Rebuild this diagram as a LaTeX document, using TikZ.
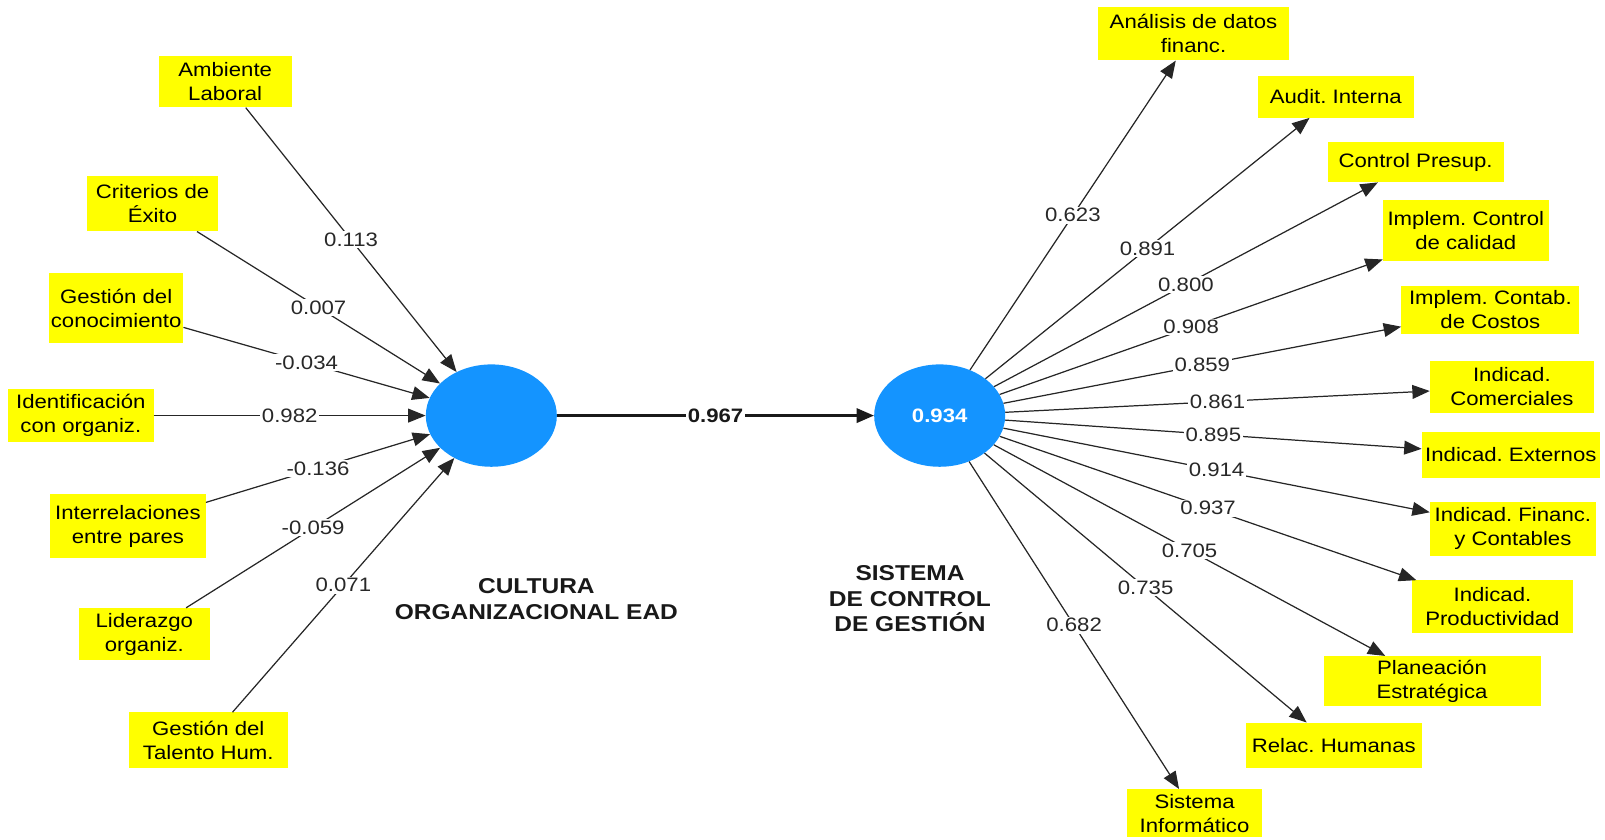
\documentclass[tikz,border=0pt]{standalone}
\usepackage{fontspec}
\setmainfont{Liberation Sans}[FakeStretch=1.14]
\usetikzlibrary{arrows.meta,shapes.geometric}
\definecolor{lvblue}{RGB}{20,148,255}
\definecolor{ylw}{RGB}{255,255,0}
\definecolor{txt}{RGB}{25,25,25}
\definecolor{lbltxt}{RGB}{40,40,40}
\frenchspacing
\begin{document}
\begin{tikzpicture}[x=1pt,y=-1pt,
  ind/.style={fill=ylw, inner sep=0pt, align=center, text=black,
    font=\fontsize{19}{23.5}\selectfont},
  lv/.style={ellipse, fill=lvblue, minimum width=128pt, minimum height=100pt, inner sep=0pt},
  arr/.style={-{Triangle[length=17pt,width=13.5pt]}, line width=1.2pt, draw=black!85},
  lbl/.style={fill=white, inner sep=1.5pt, text=lbltxt, font=\fontsize{19}{22}\selectfont},
  lvcaption/.style={align=center, text=txt, font=\fontsize{21}{25}\selectfont\bfseries}
]
\useasboundingbox (0,0) rectangle (1568,820);

% latent variables
\node[lv] (lv1) at (480,406) {};
\node[lv] (lv2) at (918,406) {\textcolor{white}{\fontsize{19}{22}\selectfont\bfseries 0.934}};

% captions
\node[lvcaption] (cap1) at (524,585) {CULTURA\\ORGANIZACIONAL EAD};
\node[lvcaption] (cap2) at (889,585) {SISTEMA\\DE CONTROL\\DE GESTIÓN};

% left indicators
\node[ind, minimum width=130pt, minimum height=50pt] (amb) at (220,80) {Ambiente\\Laboral};
\node[ind, minimum width=128pt, minimum height=54pt] (cri) at (149,199) {Criterios de\\Éxito};
\node[ind, minimum width=131pt, minimum height=68pt] (gco) at (113.5,301) {Gestión del\\conocimiento};
\node[ind, minimum width=142pt, minimum height=52pt] (ide) at (79,406) {Identificación\\con organiz.};
\node[ind, minimum width=152pt, minimum height=62pt] (int) at (125,514) {Interrelaciones\\entre pares};
\node[ind, minimum width=128pt, minimum height=51pt] (lid) at (141,619.5) {Liderazgo\\organiz.};
\node[ind, minimum width=155pt, minimum height=54pt] (gta) at (203.5,723) {Gestión del\\Talento Hum.};

% right indicators
\node[ind, minimum width=186pt, minimum height=52pt] (ana) at (1166,33) {Análisis de datos\\financ.};
\node[ind, minimum width=152pt, minimum height=41pt] (aud) at (1305,94.5) {Audit. Interna};
\node[ind, minimum width=172pt, minimum height=39pt] (cpr) at (1383,158.5) {Control Presup.};
\node[ind, minimum width=162pt, minimum height=60pt] (icc) at (1432,225) {Implem. Control\\de calidad};
\node[ind, minimum width=174pt, minimum height=47pt] (ico) at (1456,302.5) {Implem. Contab.\\de Costos};
\node[ind, minimum width=160pt, minimum height=50pt] (com) at (1477,378) {Indicad.\\Comerciales};
\node[ind, minimum width=174pt, minimum height=45pt] (ext) at (1476,444.5) {Indicad. Externos};
\node[ind, minimum width=162pt, minimum height=53pt] (fin) at (1478,516.5) {Indicad. Financ.\\y Contables};
\node[ind, minimum width=158pt, minimum height=51pt] (pro) at (1458,592.5) {Indicad.\\Productividad};
\node[ind, minimum width=212pt, minimum height=49pt] (pla) at (1399,665.5) {Planeación\\Estratégica};
\node[ind, minimum width=172pt, minimum height=44pt] (rel) at (1303,728) {Relac. Humanas};
\node[ind, minimum width=132pt, minimum height=47pt] (sis) at (1167,794.5) {Sistema\\Informático};

% left connectors
\draw[arr] (amb) -- node[lbl] {0.113} (lv1);
\draw[arr] (cri) -- node[lbl] {0.007} (lv1);
\draw[arr] (gco) -- node[lbl] {-0.034} (lv1);
\draw[arr] (ide) -- node[lbl] {0.982} (lv1);
\draw[arr] (int) -- node[lbl] {-0.136} (lv1);
\draw[arr] (lid) -- node[lbl] {-0.059} (lv1);
\draw[arr] (gta) -- node[lbl] {0.071} (lv1);

% structural path
\draw[-{Triangle[length=17pt,width=14pt]}, line width=2.6pt, draw=black!90] (lv1) -- node[lbl, text=txt, font=\fontsize{19}{22}\selectfont\bfseries] {0.967} (lv2);

% right connectors
\draw[arr] (lv2) -- node[lbl] {0.623} (ana);
\draw[arr] (lv2) -- node[lbl] {0.891} (aud);
\draw[arr] (lv2) -- node[lbl] {0.800} (cpr);
\draw[arr] (lv2) -- node[lbl] {0.908} (icc);
\draw[arr] (lv2) -- node[lbl] {0.859} (ico);
\draw[arr] (lv2) -- node[lbl] {0.861} (com);
\draw[arr] (lv2) -- node[lbl] {0.895} (ext);
\draw[arr] (lv2) -- node[lbl] {0.914} (fin);
\draw[arr] (lv2) -- node[lbl] {0.937} (pro);
\draw[arr] (lv2) -- node[lbl] {0.705} (pla);
\draw[arr] (lv2) -- node[lbl] {0.735} (rel);
\draw[arr] (lv2) -- node[lbl] {0.682} (sis);
\end{tikzpicture}
\end{document}
